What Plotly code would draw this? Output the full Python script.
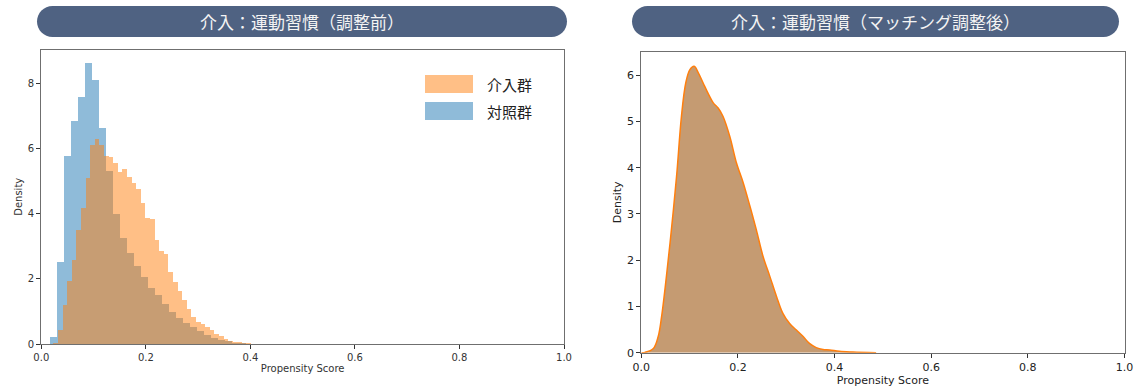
import plotly.graph_objects as go

W, H = 1141, 390

# --- Left panel: histogram densities before adjustment ---
treated_bin_start = 0.0236
treated_bin_width = 0.0088
treated_density = [0.06, 0.43, 1.22, 1.94, 2.6, 3.5, 4.2, 5.1, 6.12, 6.3,
                   6.12, 5.78, 5.74, 5.58, 5.28, 5.38, 5.13, 4.94, 4.76, 4.33,
                   3.87, 3.85, 3.2, 2.86, 2.77, 2.23, 1.92, 1.63, 1.37, 1.1,
                   0.84, 0.69, 0.62, 0.55, 0.43, 0.31, 0.25, 0.18, 0.12, 0.08,
                   0.08, 0.06, 0.04, 0.03, 0.02, 0.01]

control_bin_start = 0.0175
control_bin_width = 0.01335
control_density = [0.23, 2.53, 5.79, 6.84, 7.6, 8.62, 8.1, 6.64, 5.33, 4.0,
                   3.28, 2.8, 2.41, 2.07, 1.74, 1.51, 1.25, 0.99, 0.81, 0.66,
                   0.53, 0.41, 0.28, 0.2, 0.14, 0.1, 0.06, 0.04, 0.03, 0.02,
                   0.01, 0.01]

# --- Right panel: density curve after matching ---
kde_x = [0.0, 0.0076, 0.025, 0.035, 0.042, 0.052, 0.063, 0.073, 0.083, 0.092,
         0.1006, 0.1095, 0.118, 0.128, 0.138, 0.149, 0.159, 0.169, 0.183, 0.197,
         0.211, 0.225, 0.238, 0.252, 0.266, 0.280, 0.293, 0.307, 0.321, 0.335,
         0.348, 0.362, 0.376, 0.390, 0.41, 0.438, 0.486]
kde_y = [0.0, 0.007, 0.09, 0.35, 0.78, 1.65, 2.73, 3.81, 5.1, 5.83,
         6.12, 6.19, 6.05, 5.83, 5.61, 5.4, 5.29, 5.11, 4.68, 4.1,
         3.67, 3.16, 2.66, 2.08, 1.65, 1.21, 0.85, 0.63, 0.49, 0.35,
         0.20, 0.11, 0.07, 0.06, 0.03, 0.015, 0.0]

x_ticks = [0.0, 0.2, 0.4, 0.6, 0.8, 1.0]
x_tick_text = ["0.0", "0.2", "0.4", "0.6", "0.8", "1.0"]
left_y_ticks = [0, 2, 4, 6, 8]
right_y_ticks = [0, 1, 2, 3, 4, 5, 6]

titles = ["介入：運動習慣（調整前）", "介入：運動習慣（マッチング調整後）"]
legend_labels = ["介入群", "対照群"]
axis_title_x = "Propensity Score"
axis_title_y = "Density"

BLUE = "rgba(31,119,180,0.5)"
ORANGE = "rgba(255,127,14,0.5)"
BANNER = "#4f6282"
CJK = "Noto Sans CJK JP"
LATIN = "DejaVu Sans"


def px_x(p):
    return p / W


def px_y(p):
    return 1 - p / H


fig = go.Figure()

fig.add_trace(go.Bar(
    x=[control_bin_start + (i + 0.5) * control_bin_width for i in range(len(control_density))],
    y=control_density, width=control_bin_width,
    marker=dict(color=BLUE, line=dict(width=0)),
    xaxis="x", yaxis="y", name=legend_labels[1], showlegend=False,
))
fig.add_trace(go.Bar(
    x=[treated_bin_start + (i + 0.5) * treated_bin_width for i in range(len(treated_density))],
    y=treated_density, width=treated_bin_width,
    marker=dict(color=ORANGE, line=dict(width=0)),
    xaxis="x", yaxis="y", name=legend_labels[0], showlegend=False,
))
fig.add_trace(go.Scatter(
    x=kde_x, y=kde_y, mode="lines", line=dict(color="#ff7f0e", width=1.5, shape="spline"),
    fill="tozeroy", fillcolor="rgb(197,155,114)",
    xaxis="x2", yaxis="y2", showlegend=False,
))

axis_common = dict(
    showline=True, linecolor="#6f6f6f", linewidth=1.2, mirror=True, automargin=False,
    ticks="outside", ticklen=4, tickcolor="#333", showgrid=False, zeroline=False,
)

left_dom_x = [px_x(41.3), px_x(564)]
left_dom_y = [px_y(344), px_y(49.5)]
right_dom_x = [px_x(641.3), px_x(1124.5)]
right_dom_y = [px_y(352.7), px_y(52)]

fig.update_layout(
    width=W, height=H, margin=dict(l=0, r=0, t=0, b=0, autoexpand=False),
    paper_bgcolor="white", plot_bgcolor="white",
    barmode="overlay", bargap=0, showlegend=False,
    xaxis=dict(domain=left_dom_x, range=[0, 1], tickvals=x_ticks, ticktext=x_tick_text,
               tickfont=dict(family=LATIN, size=10, color="#333"),
               title=dict(text=axis_title_x, font=dict(family=LATIN, size=10, color="#333"), standoff=2),
               anchor="y", **axis_common),
    yaxis=dict(domain=left_dom_y, range=[0, 9.03], tickvals=left_y_ticks,
               tickfont=dict(family=LATIN, size=10, color="#333"),
               title=dict(text=axis_title_y, font=dict(family=LATIN, size=10, color="#333"), standoff=3),
               anchor="x", **axis_common),
    xaxis2=dict(domain=right_dom_x, range=[0, 1], tickvals=x_ticks, ticktext=x_tick_text,
                tickfont=dict(family=LATIN, size=11, color="#222"),
                title=dict(text=axis_title_x, font=dict(family=LATIN, size=11, color="#222"), standoff=3),
                anchor="y2", **axis_common),
    yaxis2=dict(domain=right_dom_y, range=[0, 6.5], tickvals=right_y_ticks,
                tickfont=dict(family=LATIN, size=11, color="#222"),
                title=dict(text=axis_title_y, font=dict(family=LATIN, size=11, color="#222"), standoff=3),
                anchor="x2", **axis_common),
)


def pill_path(x0, x1, y0, y1):
    """Rounded banner outline in paper coordinates (pixel inputs)."""
    r = (y1 - y0) / 2
    k = 0.5523 * r
    pts = [
        f"M{px_x(x0 + r)},{px_y(y0)}",
        f"L{px_x(x1 - r)},{px_y(y0)}",
        f"C{px_x(x1 - r + k)},{px_y(y0)} {px_x(x1)},{px_y(y0 + r - k)} {px_x(x1)},{px_y(y0 + r)}",
        f"C{px_x(x1)},{px_y(y0 + r + k)} {px_x(x1 - r + k)},{px_y(y1)} {px_x(x1 - r)},{px_y(y1)}",
        f"L{px_x(x0 + r)},{px_y(y1)}",
        f"C{px_x(x0 + r - k)},{px_y(y1)} {px_x(x0)},{px_y(y0 + r + k)} {px_x(x0)},{px_y(y0 + r)}",
        f"C{px_x(x0)},{px_y(y0 + r - k)} {px_x(x0 + r - k)},{px_y(y0)} {px_x(x0 + r)},{px_y(y0)}",
        "Z",
    ]
    return " ".join(pts)


banners = [(37, 567), (632, 1119)]
for (bx0, bx1), text in zip(banners, titles):
    fig.add_shape(type="path", path=pill_path(bx0, bx1, 6, 37), xref="paper", yref="paper",
                  fillcolor=BANNER, line=dict(width=0), layer="above")
    fig.add_annotation(x=px_x((bx0 + bx1) / 2), y=px_y(21.5), xref="paper", yref="paper",
                       text=text, showarrow=False, xanchor="center", yanchor="middle",
                       font=dict(family=CJK, size=17, color="#f4f4f4"))

# legend patches and labels in the left panel
legend_rows = [(legend_labels[0], ORANGE, 75, 93), (legend_labels[1], BLUE, 102, 120)]
for label, color, y0, y1 in legend_rows:
    fig.add_shape(type="rect", xref="paper", yref="paper",
                  x0=px_x(425), x1=px_x(473), y0=px_y(y1), y1=px_y(y0),
                  fillcolor=color, line=dict(width=0))
    fig.add_annotation(x=px_x(485), y=px_y((y0 + y1) / 2), xref="paper", yref="paper",
                       text=label, showarrow=False, xanchor="left", yanchor="middle",
                       font=dict(family=CJK, size=15, color="#222"))

fig.write_html("out.html")
